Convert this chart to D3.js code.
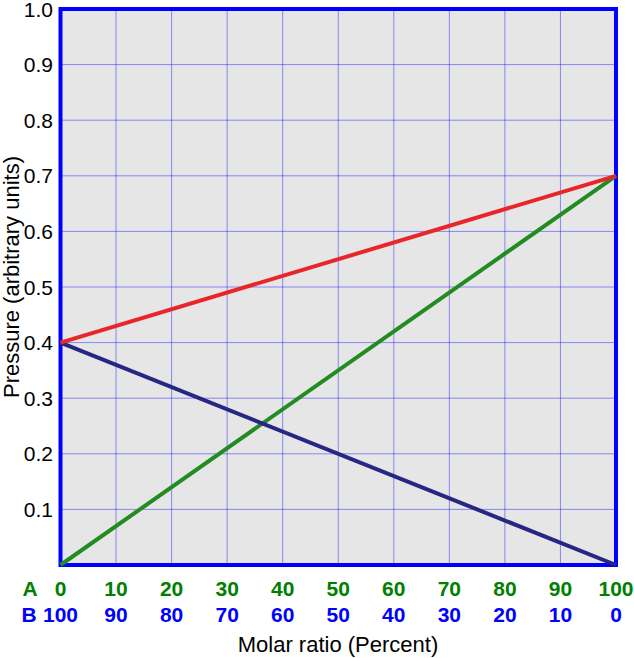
<!DOCTYPE html>
<html>
<head>
<meta charset="utf-8">
<script src="https://cdn.jsdelivr.net/npm/d3@7"></script>
<style>
  body { margin: 0; background: #fff; }
  svg { display: block; font-family: "Liberation Sans", Arial, sans-serif; }
</style>
</head>
<body>
<svg width="634" height="658"></svg>
<script>
  // molar ratio of A in percent, B is 100 - A
  const ratioA = [0, 10, 20, 30, 40, 50, 60, 70, 80, 90, 100];
  const ratioB = [100, 90, 80, 70, 60, 50, 40, 30, 20, 10, 0];
  const yTicks = [0.1, 0.2, 0.3, 0.4, 0.5, 0.6, 0.7, 0.8, 0.9, 1.0];

  // pressure at A = 0 and A = 100
  const totalP = [0.4, 0.7];
  const partialA = [0, 0.7];
  const partialB = [0.4, 0];

  const svg = d3.select("svg");
  const plotL = 60.5, plotR = 616, plotT = 9, plotB = 565;

  const x = d3.scaleLinear().domain([0, 100]).range([plotL, plotR]);
  const y = d3.scaleLinear().domain([0, 1]).range([plotB, plotT]);

  // background
  svg.append("rect")
    .attr("x", plotL).attr("y", plotT)
    .attr("width", plotR - plotL).attr("height", plotB - plotT)
    .attr("fill", "#e6e6e6");

  // grid
  svg.append("g").selectAll("line")
    .data(ratioA.slice(1, -1))
    .enter().append("line")
    .attr("x1", d => x(d)).attr("x2", d => x(d))
    .attr("y1", plotT).attr("y2", plotB)
    .attr("stroke", "#0000ff").attr("stroke-opacity", 0.42).attr("stroke-width", 1);

  svg.append("g").selectAll("line")
    .data(yTicks.slice(0, -1))
    .enter().append("line")
    .attr("x1", plotL).attr("x2", plotR)
    .attr("y1", d => y(d)).attr("y2", d => y(d))
    .attr("stroke", "#0000ff").attr("stroke-opacity", 0.42).attr("stroke-width", 1);

  // border
  svg.append("rect")
    .attr("x", plotL).attr("y", plotT)
    .attr("width", plotR - plotL).attr("height", plotB - plotT)
    .attr("fill", "none")
    .attr("stroke", "#0000ff").attr("stroke-width", 4);

  // lines
  const series = [
    { vals: partialA, color: "#228b22" },
    { vals: partialB, color: "#262685" },
    { vals: totalP, color: "#e8262a" }
  ];
  const line = d3.line()
    .x((d, i) => x(i * 100))
    .y(d => y(d));

  svg.append("g").selectAll("path")
    .data(series)
    .enter().append("path")
    .attr("d", d => line(d.vals))
    .attr("fill", "none")
    .attr("stroke", d => d.color)
    .attr("stroke-width", 4);

  // y tick labels
  svg.append("g").selectAll("text")
    .data(yTicks)
    .enter().append("text")
    .attr("x", 53)
    .attr("y", d => y(d) + 7.5)
    .attr("text-anchor", "end")
    .attr("font-size", 21)
    .attr("fill", "#000")
    .text(d => d.toFixed(1));

  // A and B rows
  svg.append("g").selectAll("text")
    .data(ratioA)
    .enter().append("text")
    .attr("x", d => x(d))
    .attr("y", 596)
    .attr("text-anchor", "middle")
    .attr("font-size", 21)
    .attr("font-weight", "bold")
    .attr("fill", "#008000")
    .text(d => d);

  svg.append("g").selectAll("text")
    .data(ratioB)
    .enter().append("text")
    .attr("x", (d, i) => x(ratioA[i]))
    .attr("y", 622)
    .attr("text-anchor", "middle")
    .attr("font-size", 21)
    .attr("font-weight", "bold")
    .attr("fill", "#0000ff")
    .text(d => d);

  svg.append("text")
    .attr("x", 30).attr("y", 596)
    .attr("text-anchor", "middle")
    .attr("font-size", 21).attr("font-weight", "bold")
    .attr("fill", "#008000")
    .text("A");

  svg.append("text")
    .attr("x", 29).attr("y", 622)
    .attr("text-anchor", "middle")
    .attr("font-size", 21).attr("font-weight", "bold")
    .attr("fill", "#0000ff")
    .text("B");

  // axis titles
  svg.append("text")
    .attr("x", 338).attr("y", 652)
    .attr("text-anchor", "middle")
    .attr("font-size", 22)
    .text("Molar ratio (Percent)");

  svg.append("text")
    .attr("transform", "translate(19,277) rotate(-90)")
    .attr("text-anchor", "middle")
    .attr("font-size", 22)
    .text("Pressure (arbitrary units)");
</script>
</body>
</html>
